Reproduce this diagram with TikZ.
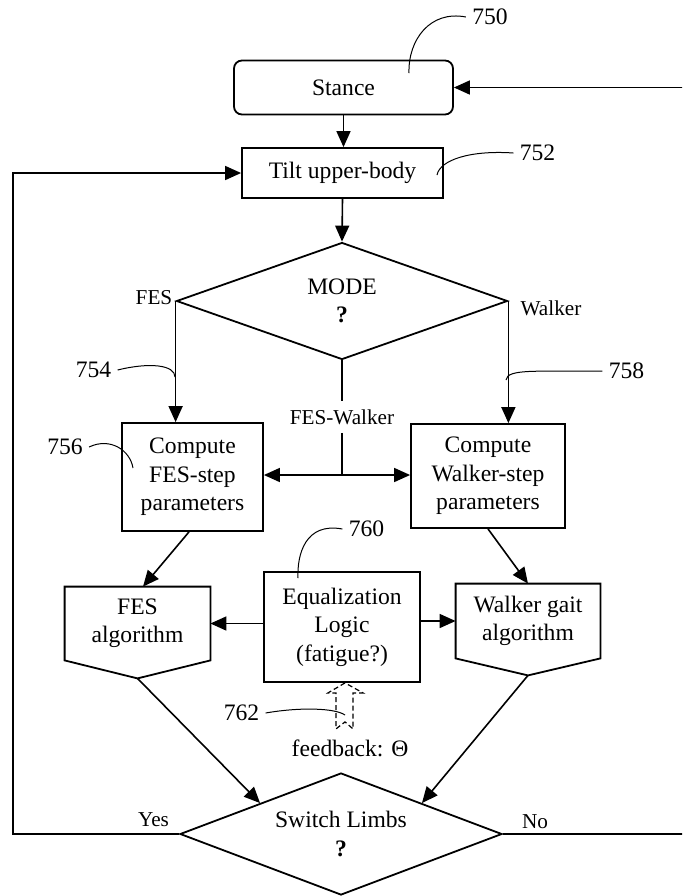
\documentclass[tikz,border=0pt]{standalone}
\usepackage{fontspec}
\setmainfont{Liberation Serif}
\usetikzlibrary{shapes.geometric,arrows.meta,calc}

\begin{document}
\begin{tikzpicture}[x=0.5pt,y=-0.5pt,
    font=\fontsize{11.8}{14.2}\selectfont,
    box/.style={draw,line width=0.9pt,align=center,inner sep=0pt},
    decision/.style={draw,diamond,aspect=2.7,line width=0.9pt,align=center,inner sep=0pt},
    small/.style={font=\fontsize{10.6}{12}\selectfont,inner sep=1pt},
    refnum/.style={inner sep=3pt},
    arr/.style={line width=0.8pt,-{Triangle[length=8pt,width=7pt]}},
    darr/.style={line width=0.8pt,{Triangle[length=8pt,width=7pt]}-{Triangle[length=8pt,width=7pt]}},
    leader/.style={line width=0.5pt}]
  \useasboundingbox (0,0) rectangle (682,896);
  \clip (0,0) rectangle (682,896);

  \node[box,rounded corners=4pt,minimum width=109.5pt,minimum height=27pt] (stance) at (343.5,87.5) {Stance};
  \node[box,minimum width=100.5pt,minimum height=25pt] (tilt) at (342.5,173) {Tilt upper-body};
  \node[decision,minimum width=165.5pt,minimum height=58.5pt] (mode) at (342,301) {MODE\\\textbf{?}};
  \node[box,minimum width=70.5pt,minimum height=54pt] (fesstep) at (192.5,477) {Compute\\FES-step\\parameters};
  \node[box,minimum width=77pt,minimum height=52pt] (walkstep) at (488,476) {Compute\\Walker-step\\parameters};
  \node[box,minimum width=78pt,minimum height=55pt] (equal) at (342,627) {Equalization\\Logic\\(fatigue?)};
  \node[align=center,inner sep=0pt,minimum width=72.5pt,minimum height=36.5pt] (fesalg) at (137.5,623.5) {FES\\algorithm};
  \node[align=center,inner sep=0pt,minimum width=72pt,minimum height=37pt] (walkalg) at (528,621) {Walker gait\\algorithm};
  \node[decision,minimum width=161pt,minimum height=61pt] (switch) at (341,834) {Switch Limbs\\\textbf{?}};
  \coordinate (fesalgtip) at ($(fesalg.south)+(0,18)$);
  \coordinate (walkalgtip) at ($(walkalg.south)+(0,17)$);
  \draw[line width=0.9pt] (fesalg.north west) -- (fesalg.north east) -- (fesalg.south east)
    -- (fesalgtip) -- (fesalg.south west) -- cycle;
  \draw[line width=0.9pt] (walkalg.north west) -- (walkalg.north east) -- (walkalg.south east)
    -- (walkalgtip) -- (walkalg.south west) -- cycle;

  \node[small] (fes) at (154,298) {FES};
  \node[small] (walker) at (551,308) {Walker};
  \node[small,inner sep=4pt] (fw) at (342,417) {FES-Walker};
  \node[small] (yes) at (153.5,820) {Yes};
  \node[small] (no) at (535,822) {No};
  \node (feedback) at (350,748) {feedback: Θ};

  \node[refnum] (l750) at (490,17) {750};
  \node[refnum] (l752) at (537.5,153) {752};
  \node[refnum] (l754) at (93.5,370) {754};
  \node[refnum] (l756) at (65,447) {756};
  \node[refnum] (l758) at (626.5,371) {758};
  \node[refnum] (l760) at (366.5,529) {760};
  \node[refnum] (l762) at (241.5,713) {762};

  \coordinate (fwjoin) at (342,475);
  \coordinate (yesturn) at (13,834);
  \coordinate (noturn) at (690,834);

  \draw[arr] (stance.south) -- (stance.south |- tilt.north);
  \draw[arr] (tilt.south) -- (mode.north);
  \draw[arr] (mode.west) -- (mode.west |- fesstep.north);
  \draw[arr] (mode.east) -- (mode.east |- walkstep.north);
  \draw[line width=0.8pt] (mode.south) -- (fw.north);
  \draw[line width=0.8pt] (fw.south) -- (fwjoin);
  \draw[darr] (fesstep.east |- fwjoin) -- (walkstep.west |- fwjoin);
  \draw[arr] ([xshift=-1.75pt]fesstep.south) -- ([xshift=2.75pt]fesalg.north);
  \draw[arr] (walkstep.south) -- (walkalg.north);
  \draw[arr] (equal.west |- fesalg.east) -- (fesalg.east);
  \draw[arr] (equal.east |- walkalg.west) -- (walkalg.west);
  \draw[arr] (fesalgtip) -- (switch.north west);
  \draw[arr] (walkalgtip) -- (switch.north east);
  \draw[arr] (switch.west) -- (yesturn) |- (tilt.west);
  \draw[arr] (switch.east) -- (noturn) |- (stance.east);

  \draw[dashed,dash pattern=on 2.5pt off 1.5pt,line width=0.6pt] ($(equal.south)+(3,0)$)
    -- ++(-17,10) -- ++(8,0) -- ++(0,36) -- ++(9,-7) -- ++(8,7) -- ++(0,-36) -- ++(10,0) -- cycle;

  \begin{scope}[leader]
    \draw (l750.west) .. controls (430,10) and (408,40) .. (409,73);
    \draw (l752.west) .. controls (470,150) and (440,160) .. (437,175);
    \draw (l754.east) .. controls (150,362) and (175,365) .. (175,377);
    \draw (l756.east) .. controls (110,437) and (130,450) .. (133,468);
    \draw (l758.west) .. controls (540,372) and (507,368) .. (506,380);
    \draw (l760.west) .. controls (305,522) and (297,555) .. (298,578);
    \draw (l762.east) .. controls (300,707) and (335,708) .. (345,715);
  \end{scope}
\end{tikzpicture}
\end{document}
